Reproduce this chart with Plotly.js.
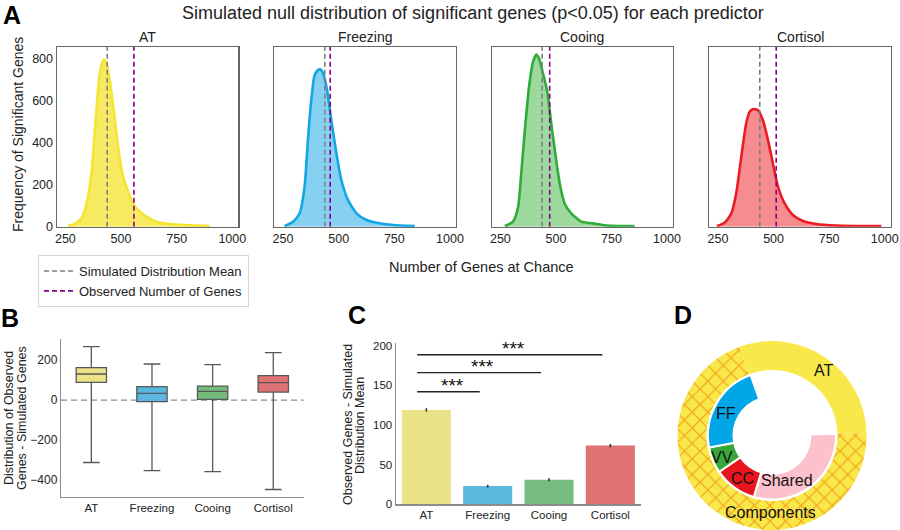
<!DOCTYPE html>
<html><head><meta charset="utf-8">
<script src="https://cdn.plot.ly/plotly-3.0.1.min.js"></script>
<style>html,body{margin:0;padding:0;background:#fff}#chart{width:900px;height:530px}</style>
</head><body><div id="chart"></div>
<script>
// ---------- DATA ----------
const predictors = ['AT', 'Freezing', 'Cooing', 'Cortisol'];

// Panel A: simulated null distributions (number of genes vs frequency)
const atX   = [262, 292, 322, 344, 367, 386, 401, 412, 422, 434, 449, 467, 487, 506, 532, 554, 577, 614, 659, 734, 824, 899];
const atY   = [3, 13, 40, 103, 254, 509, 700, 771, 798, 779, 700, 556, 382, 254, 167, 111, 79, 48, 24, 11, 6, 3];
const frzX  = [257, 295, 325, 347, 362, 377, 392, 407, 419, 433, 448, 467, 490, 512, 542, 580, 625, 670, 745, 842];
const frzY  = [3, 24, 64, 191, 413, 604, 723, 747, 750, 723, 652, 509, 350, 223, 127, 64, 32, 19, 8, 3];
const cooX  = [270, 307, 330, 344, 359, 379, 397, 412, 424, 442, 460, 479, 499, 517, 539, 569, 614, 667, 727, 854];
const cooY  = [3, 24, 95, 254, 445, 668, 787, 822, 803, 731, 652, 493, 334, 207, 111, 64, 24, 16, 6, 3];
const corX  = [245, 280, 310, 332, 355, 377, 392, 407, 430, 452, 475, 497, 520, 550, 587, 632, 692, 782, 985];
const corY  = [3, 19, 64, 159, 334, 493, 548, 561, 556, 509, 413, 302, 191, 111, 56, 27, 13, 6, 3];
const simMean  = [438, 438, 438, 438];
const observed = [558, 462, 472, 512];

// Panel B: distribution of observed - simulated genes
const boxLower = [-312, -353, -358, -447];
const boxQ1    = [88, -8, 3, 40];
const boxMed   = [130, 33, 43, 87];
const boxQ3    = [162, 67, 70, 122];
const boxUpper = [267, 180, 177, 237];

// Panel C: observed genes - simulated distribution mean
const diffMean = [119, 23, 31, 74];
const diffErr  = [2, 1.8, 1.8, 2];
const sigPairs   = [[0, 1], [0, 2], [0, 3]];
const sigHeights = [142, 166, 188.5];
const sigLabels  = ['***', '***', '***'];

// Panel D: component donut
const outerLabels = ['AT', 'Components'];
const outerValues = [109, 251];
const innerLabels = ['Shared', 'CC', 'VV', 'FF', ''];
const innerValues = [108, 39, 23.6, 81.4, 108];

// ---------- STYLE ----------
const FONT = 'Liberation Sans, Arial, Helvetica, sans-serif';
const TXT = '#222';
const lineCols = ['#f4e531', '#12a6e2', '#2fab3a', '#ec1c24'];
const fillCols = ['rgba(247,233,88,0.95)', 'rgba(128,207,241,0.95)', 'rgba(152,214,153,0.95)', 'rgba(244,134,138,0.95)'];
const boxCols  = ['#ebe28a', '#5bb6e0', '#74bb7c', '#e07274'];
const barCols  = ['#e9e289', '#5cb8dd', '#77bd82', '#e07273'];

const W = 900, H = 530;
const dx = (a, b) => [a / W, b / W];
const dy = (top, bot) => [1 - bot / H, 1 - top / H];
const px = v => v / W;
const py = v => 1 - v / H;

const aDomains = [[56.7, 238.3], [274.3, 456], [491.7, 673], [709.3, 890.7]];
const aY = [46.7, 226.7];
const curves = [[atX, atY], [frzX, frzY], [cooX, cooY], [corX, corY]];
const yTop = 859;

const data = [];
const layout = {
  width: W, height: H, margin: {l: 0, r: 0, t: 0, b: 0},
  paper_bgcolor: '#fff', plot_bgcolor: 'rgba(0,0,0,0)',
  font: {family: FONT, color: TXT, size: 12},
  showlegend: true,
  legend: {x: px(38), y: py(255), xanchor: 'left', yanchor: 'top',
           bordercolor: '#d6d6d6', borderwidth: 1, bgcolor: '#fff',
           font: {size: 13, color: TXT}, itemwidth: 30, tracegroupgap: 0},
  shapes: [], annotations: []
};

predictors.forEach((p, i) => {
  const s = i === 0 ? '' : String(i + 1);
  const xa = 'x' + s, ya = 'y' + s;
  data.push({type: 'scatter', mode: 'lines', x: curves[i][0], y: curves[i][1], xaxis: xa, yaxis: ya,
    fill: 'tozeroy', fillcolor: fillCols[i], line: {color: lineCols[i], width: 2.6, shape: 'spline', smoothing: 0.6},
    showlegend: false, hoverinfo: 'skip'});
  data.push({type: 'scatter', mode: 'lines', x: [simMean[i], simMean[i]], y: [0, yTop], xaxis: xa, yaxis: ya,
    line: {color: '#7f7f7f', width: 1.6, dash: '5px,3px'}, name: 'Simulated Distribution Mean',
    showlegend: i === 0, legendrank: 1, hoverinfo: 'skip'});
  data.push({type: 'scatter', mode: 'lines', x: [observed[i], observed[i]], y: [0, yTop], xaxis: xa, yaxis: ya,
    line: {color: '#8b008b', width: 1.6, dash: '5px,3px'}, name: 'Observed Number of Genes',
    showlegend: i === 0, legendrank: 2, hoverinfo: 'skip'});
  layout['xaxis' + s] = {domain: dx(aDomains[i][0], aDomains[i][1]), anchor: ya, range: [211, 1027],
    tickvals: [250, 500, 750, 1000], showgrid: false, zeroline: false, showline: true, mirror: true,
    linecolor: '#666', linewidth: 1.2, ticks: '', tickfont: {size: 12.5, color: TXT}};
  layout['yaxis' + s] = {domain: dy(aY[0], aY[1]), anchor: xa, range: [0, yTop],
    tickvals: [0, 200, 400, 600, 800], showticklabels: i === 0, showgrid: false, zeroline: false,
    showline: true, mirror: true, linecolor: '#666', linewidth: 1.2, ticks: '', tickfont: {size: 12.5, color: TXT}};
  layout.annotations.push({xref: 'paper', yref: 'paper', x: px((aDomains[i][0] + aDomains[i][1]) / 2), y: py(37),
    text: p, showarrow: false, font: {size: 14}, xanchor: 'center', yanchor: 'middle'});
});

// Panel B boxes
predictors.forEach((p, i) => {
  data.push({type: 'box', x: [p], q1: [boxQ1[i]], median: [boxMed[i]], q3: [boxQ3[i]],
    lowerfence: [boxLower[i]], upperfence: [boxUpper[i]], xaxis: 'x5', yaxis: 'y5',
    fillcolor: boxCols[i], line: {color: '#585858', width: 1.3}, width: 0.5, whiskerwidth: 0.55,
    boxpoints: false, showlegend: false, hoverinfo: 'skip'});
});
layout.xaxis5 = {domain: dx(61, 303.6), anchor: 'y5', type: 'category', range: [-0.5, 3.5],
  showgrid: false, zeroline: false, showline: true, linecolor: '#8c8c8c', linewidth: 1.2, ticks: '',
  tickfont: {size: 11.5, color: TXT}};
layout.yaxis5 = {domain: dy(339, 496.7), anchor: 'x5', range: [-483, 305], tickvals: [-400, -200, 0, 200],
  showgrid: false, zeroline: false, showline: true, linecolor: '#8c8c8c', linewidth: 1.2, ticks: '',
  tickfont: {size: 12, color: TXT}};
layout.shapes.push({type: 'line', xref: 'x5 domain', yref: 'y5', x0: 0, x1: 1, y0: 0, y1: 0,
  line: {color: '#8a8a8a', width: 1.3, dash: '6px,4px'}, layer: 'below'});

// Panel C bars
data.push({type: 'bar', x: predictors, y: diffMean, xaxis: 'x6', yaxis: 'y6', width: 0.8,
  marker: {color: barCols, line: {width: 0}},
  error_y: {type: 'data', array: diffErr, color: '#333', thickness: 1.6, width: 0},
  showlegend: false, hoverinfo: 'skip'});
layout.xaxis6 = {domain: dx(395.7, 641), anchor: 'y6', type: 'category', range: [-0.5, 3.5],
  showgrid: false, zeroline: false, showline: true, linecolor: '#8c8c8c', linewidth: 1.2, ticks: '',
  tickfont: {size: 11.5, color: TXT}};
layout.yaxis6 = {domain: dy(343.3, 504.3), anchor: 'x6', range: [0, 203], tickvals: [0, 50, 100, 150, 200],
  showgrid: false, zeroline: false, showline: true, linecolor: '#8c8c8c', linewidth: 1.2, ticks: '',
  tickfont: {size: 11.5, color: TXT}};
sigPairs.forEach((pr, k) => {
  const x0 = pr[0] - 0.15, x1 = pr[1] - 0.13;
  layout.shapes.push({type: 'line', xref: 'x6', yref: 'y6', x0: x0, x1: x1, y0: sigHeights[k], y1: sigHeights[k],
    line: {color: '#222', width: 1.4}});
  layout.annotations.push({xref: 'x6', yref: 'y6', x: (x0 + x1) / 2 + 0.06, y: sigHeights[k], text: sigLabels[k],
    showarrow: false, font: {size: 19, color: '#111'}, xanchor: 'center', yanchor: 'bottom', yshift: -6});
});

// Panel D donut
const cx = 772, cy = 435.5, rO = 94.5, rI = 64;
data.push({type: 'pie', labels: outerLabels, values: outerValues, sort: false, direction: 'clockwise',
  rotation: -20.5, hole: 65.5 / rO, domain: {x: dx(cx - rO, cx + rO), y: dy(cy - rO, cy + rO)},
  marker: {colors: ['#f8e84a', '#f8e84a'], line: {color: '#fff', width: [0, 0]},
    pattern: {shape: ['', 'x'], fgcolor: '#f5a01a', bgcolor: '#f8e84a', size: 11, solidity: 0.2}},
  textinfo: 'none', showlegend: false, hoverinfo: 'skip'});
data.push({type: 'pie', labels: innerLabels, values: innerValues, sort: false, direction: 'clockwise',
  rotation: 88.5, hole: 38.5 / rI, domain: {x: dx(cx - rI, cx + rI), y: dy(cy - rI, cy + rI)},
  marker: {colors: ['#fcc1cc', '#e8141e', '#39a83b', '#00a6e6', 'rgba(0,0,0,0)'],
    line: {color: '#fff', width: [2, 2, 2, 2, 0]}},
  textinfo: 'none', showlegend: false, hoverinfo: 'skip'});
const pieText = [['AT', 823, 370], ['FF', 726, 413], ['VV', 722, 457], ['CC', 742, 478], ['Shared', 787, 480], ['Components', 770, 512]];
pieText.forEach(t => layout.annotations.push({xref: 'paper', yref: 'paper', x: px(t[1]), y: py(t[2]), text: t[0],
  showarrow: false, font: {size: 16, color: '#111'}, xanchor: 'center', yanchor: 'middle'}));

// Titles and labels
const ann = (text, x, y, size, extra) => layout.annotations.push(Object.assign({xref: 'paper', yref: 'paper',
  x: px(x), y: py(y), text: text, showarrow: false, font: {size: size, color: TXT}, xanchor: 'center', yanchor: 'middle'}, extra || {}));
ann('Simulated null distribution of significant genes (p<0.05) for each predictor', 472.5, 12.5, 18);
ann('Frequency of Significant Genes', 18, 135, 14, {textangle: -90});
ann('Number of Genes at Chance', 481, 267, 14.5);
ann('Distribution of Observed', 9, 418, 12.5, {textangle: -90});
ann('Genes - Simulated Genes', 22, 418, 12.5, {textangle: -90});
ann('Observed Genes - Simulated', 348, 425, 12.5, {textangle: -90});
ann('Distribution Mean', 360, 426, 12.5, {textangle: -90});
ann('<b>A</b>', 12, 0, 25, {font: {size: 25, color: '#000'}, yanchor: 'top', borderpad: 0});
ann('<b>B</b>', 10, 318, 25, {font: {size: 25, color: '#000'}});
ann('<b>C</b>', 357, 315, 25, {font: {size: 25, color: '#000'}});
ann('<b>D</b>', 683, 315, 25, {font: {size: 25, color: '#000'}});

Plotly.newPlot('chart', data, layout, {staticPlot: true, displayModeBar: false});
</script>
</body></html>
